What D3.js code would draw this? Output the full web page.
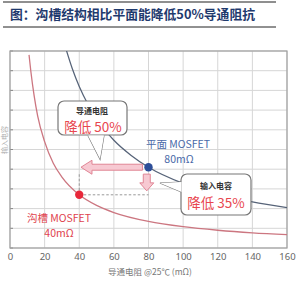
<!DOCTYPE html>
<html><head><meta charset="utf-8">
<script src="https://cdn.jsdelivr.net/npm/d3@7"></script>
<style>
html,body{margin:0;padding:0;background:#fff;}
svg{display:block;font-family:"Noto Sans CJK SC","Noto Sans",sans-serif;}
</style></head>
<body>
<svg id="c" width="305" height="283"></svg>
<script>
// ---- data ----
const titleText = "图：沟槽结构相比平面能降低50%导通阻抗";
const xTicks = [0, 20, 40, 60, 80, 100, 120, 140, 160];
const xLabel = "导通电阻 @25℃ (mΩ)";
// trench MOSFET curve (x = on-resistance, y = relative capacitance)
const trenchX = [11, 12, 14, 16, 20, 25, 30, 40, 50, 60, 80, 100, 120, 140, 160];
const trenchY = [98, 90, 77, 67, 54, 43, 36, 27, 21.6, 18, 13.5, 10.8, 9, 7.7, 6.8];
// planar MOSFET curve
const planarX = [32, 36, 40, 45, 50, 60, 70, 80, 100, 120, 140, 160];
const planarY = [102, 91, 82, 73, 65.6, 54.7, 47, 41, 32.8, 27.3, 23.4, 20.5];
const trenchPoint = [40, 27];
const planarPoint = [80, 41];

const svg = d3.select("#c");
const x = d3.scaleLinear().domain([0, 160]).range([10, 287]);
const y = d3.scaleLinear().domain([0, 100]).range([248, 51]);

// title lines
svg.append("line").attr("x1", 3).attr("x2", 276).attr("y1", 2).attr("y2", 2)
  .attr("stroke", "#6a6a6a").attr("stroke-width", 1.5);
svg.append("line").attr("x1", 3).attr("x2", 276).attr("y1", 27).attr("y2", 27)
  .attr("stroke", "#222").attr("stroke-width", 1);
svg.append("text").attr("x", 10).attr("y", 19).text(titleText)
  .attr("font-size", 12.8).attr("font-weight", "bold").attr("fill", "#1f3a6e");

// plot background
svg.append("rect").attr("x", x(0)).attr("y", y(100)).attr("width", x(160) - x(0))
  .attr("height", y(0) - y(100)).attr("fill", "#fff");

// grid
const yGrid = d3.range(0, 101, 10);
svg.append("g").selectAll("line").data(yGrid).join("line")
  .attr("x1", x(0)).attr("x2", x(160)).attr("y1", d => y(d)).attr("y2", d => y(d))
  .attr("stroke", "#d6d6d6").attr("stroke-width", 1);
svg.append("g").selectAll("line").data(xTicks).join("line")
  .attr("x1", d => x(d)).attr("x2", d => x(d)).attr("y1", y(0)).attr("y2", y(100))
  .attr("stroke", "#d6d6d6").attr("stroke-width", 1);
// small left ticks
svg.append("g").selectAll("line").data(yGrid).join("line")
  .attr("x1", x(0)).attr("x2", x(0) + 3).attr("y1", d => y(d)).attr("y2", d => y(d))
  .attr("stroke", "#888").attr("stroke-width", 1);
// frame
svg.append("rect").attr("x", x(0)).attr("y", y(100)).attr("width", x(160) - x(0))
  .attr("height", y(0) - y(100)).attr("fill", "none").attr("stroke", "#a0a0a0").attr("stroke-width", 1.2);

// x axis labels
const xAxis = d3.axisBottom(x).tickValues(xTicks).tickSize(0).tickPadding(5);
const gx = svg.append("g").attr("transform", `translate(0,${y(0)})`).call(xAxis);
gx.select(".domain").remove();
gx.selectAll("text").attr("font-size", 9.5).attr("fill", "#666")
  .attr("font-family", "'Noto Sans','Noto Sans CJK SC',sans-serif");
svg.append("text").attr("x", 150).attr("y", 275).attr("text-anchor", "middle")
  .attr("font-size", 8.5).attr("fill", "#777").text(xLabel);
// faint y label at the left edge
svg.append("text").attr("transform", "translate(7,140) rotate(-90)").attr("text-anchor", "middle")
  .attr("font-size", 7).attr("fill", "#b0b0b0").text("输入电容");

// clip
svg.append("clipPath").attr("id", "clip").append("rect")
  .attr("x", x(0)).attr("y", y(100)).attr("width", x(160) - x(0)).attr("height", y(0) - y(100));

const line = d3.line().x(d => x(d[0])).y(d => y(d[1])).curve(d3.curveMonotoneX);
const cg = svg.append("g").attr("clip-path", "url(#clip)");
cg.append("path").datum(d3.zip(trenchX, trenchY)).attr("d", line)
  .attr("fill", "none").attr("stroke", "#cc7680").attr("stroke-width", 1.3);
cg.append("path").datum(d3.zip(planarX, planarY)).attr("d", line)
  .attr("fill", "none").attr("stroke", "#566378").attr("stroke-width", 1.25);

// dashed guides
svg.append("line").attr("x1", x(trenchPoint[0])).attr("x2", x(80)).attr("y1", y(trenchPoint[1])).attr("y2", y(trenchPoint[1]))
  .attr("stroke", "#999").attr("stroke-dasharray", "2.5,2").attr("stroke-width", 1);
svg.append("line").attr("x1", x(trenchPoint[0])).attr("x2", x(trenchPoint[0])).attr("y1", y(trenchPoint[1])).attr("y2", y(38))
  .attr("stroke", "#999").attr("stroke-dasharray", "2.5,2").attr("stroke-width", 1);

// arrows
function hArrowPath(tipX, tailX, yc, bh, hh, hl) {
  return `M${tipX},${yc} L${tipX + hl},${yc - hh} L${tipX + hl},${yc - bh} L${tailX},${yc - bh} L${tailX},${yc + bh} L${tipX + hl},${yc + bh} L${tipX + hl},${yc + hh} Z`;
}
function vArrowPath(xc, topY, tipY, bw, hw, hl) {
  return `M${xc - bw},${topY} L${xc + bw},${topY} L${xc + bw},${tipY - hl} L${xc + hw},${tipY - hl} L${xc},${tipY} L${xc - hw},${tipY - hl} L${xc - bw},${tipY - hl} Z`;
}
svg.append("path").attr("d", hArrowPath(x(41), x(76.5), y(planarPoint[1]), 3, 7, 11))
  .attr("fill", "#f7c9d2").attr("stroke", "#e08595").attr("stroke-width", 1);
svg.append("path").attr("d", vArrowPath(x(79), y(37.5), y(29), 3.5, 7, 8))
  .attr("fill", "#f7c9d2").attr("stroke", "#e08595").attr("stroke-width", 1);

// points
svg.append("circle").attr("cx", x(trenchPoint[0])).attr("cy", y(trenchPoint[1])).attr("r", 4.2).attr("fill", "#e8283a");
svg.append("circle").attr("cx", x(planarPoint[0])).attr("cy", y(planarPoint[1])).attr("r", 4.2).attr("fill", "#2d4e98");

// callout boxes
function callout(bx, by, bw, bh, tail) {
  const r = 6;
  const g = svg.append("g");
  const tp = `M${tail[0][0]},${tail[0][1]} L${tail[1][0]},${tail[1][1]} L${tail[2][0]},${tail[2][1]}`;
  g.append("path").attr("d", tp).attr("fill", "#fff").attr("stroke", "#777").attr("stroke-width", 1.2);
  g.append("rect").attr("x", bx).attr("y", by).attr("width", bw).attr("height", bh).attr("rx", r)
    .attr("fill", "#fff").attr("stroke", "#777").attr("stroke-width", 1.2);
  g.append("path").attr("d", tp).attr("fill", "#fff").attr("stroke", "none");
  return g;
}
const c1 = callout(58, 101, 69, 34, [[88, 135.5], [100, 159], [104, 135.5]]);
c1.append("text").attr("x", 92).attr("y", 114).attr("text-anchor", "middle").attr("font-size", 8)
  .attr("font-weight", "bold").attr("fill", "#333").text("导通电阻");
c1.append("text").attr("x", 93).attr("y", 132).attr("text-anchor", "middle").attr("font-size", 13.5)
  .attr("fill", "#e8474f").text("降低 50%");

const c2 = callout(181, 174, 70, 41, [[181.5, 182], [160, 183], [181.5, 192]]);
c2.append("text").attr("x", 216).attr("y", 189).attr("text-anchor", "middle").attr("font-size", 8)
  .attr("font-weight", "bold").attr("fill", "#333").text("输入电容");
c2.append("text").attr("x", 216).attr("y", 208).attr("text-anchor", "middle").attr("font-size", 13.5)
  .attr("fill", "#e8474f").text("降低 35%");

// series labels
svg.append("text").attr("x", 178).attr("y", 148).attr("text-anchor", "middle").attr("font-size", 10.5)
  .attr("fill", "#4a6aa8").text("平面 MOSFET");
svg.append("text").attr("x", 179).attr("y", 163).attr("text-anchor", "middle").attr("font-size", 10.5)
  .attr("fill", "#4a6aa8").text("80mΩ");
svg.append("text").attr("x", 59).attr("y", 222).attr("text-anchor", "middle").attr("font-size", 10.5)
  .attr("fill", "#e0434e").text("沟槽 MOSFET");
svg.append("text").attr("x", 59).attr("y", 237).attr("text-anchor", "middle").attr("font-size", 10.5)
  .attr("fill", "#e0434e").text("40mΩ");
</script>
</body></html>
